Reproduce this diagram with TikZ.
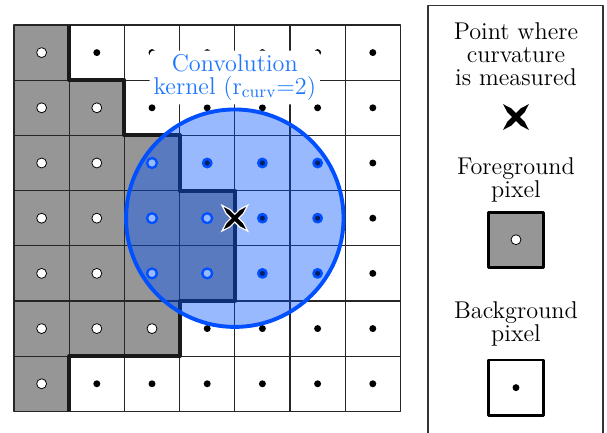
\documentclass[tikz,border=0pt]{standalone}
\definecolor{fggray}{RGB}{150,150,150}
\definecolor{kernblue}{RGB}{0,80,255}
\definecolor{textblue}{RGB}{30,120,255}
% four-pointed cross marking the measured point
\newcommand{\starcross}[2][]{%
  \begin{scope}[shift={(#2)}]
    \filldraw[line join=miter,#1] (0:0.07) \foreach \a in {0,90,180,270}{
      -- (\a+29:0.18) -- (\a+45:0.33) -- (\a+61:0.18) -- (\a+90:0.07)} -- cycle;
  \end{scope}}
\begin{document}
\begin{tikzpicture}[line join=round,
    font=\fontsize{12.5}{11.8}\selectfont,
    fgcell/.style={fill=fggray,draw=black!85,line width=0.6pt},
    bgcell/.style={fill=white,draw=black!85,line width=0.6pt},
    fgdot/.style={fill=white,draw=black,line width=0.4pt},
    border/.style={line width=2pt,black!90},
    kernel/.style={fill=kernblue,fill opacity=0.4,draw=kernblue,draw opacity=1,line width=2pt},
    fgring/.style={draw=kernblue,line width=1.2pt},
    bgring/.style={draw=kernblue,line width=1.3pt},
    legtext/.style={align=center,inner sep=0pt}]
  \useasboundingbox (-0.254,-0.391) rectangle (10.743,7.453);
  % pixel grid
  \foreach \r/\n in {0/1,1/2,2/3,3/4,4/4,5/3,6/1}{
    \foreach \c in {0,...,6}{
      \ifnum\c<\n
        \draw[fgcell] (\c,6-\r) rectangle ++(1,1);
        \filldraw[fgdot] (\c+0.5,6.5-\r) circle (0.09);
      \else
        \draw[bgcell] (\c,6-\r) rectangle ++(1,1);
        \fill (\c+0.5,6.5-\r) circle (0.063);
      \fi
    }
  }
  \draw[border] (1,7) |- (2,6) |- (3,5) |- (4,4) -- (4,2) -| (3,1) -| (1,0);
  \node[fill=white,rounded corners=2pt,inner sep=2pt,align=center,text=textblue]
    (kernlabel) at (4,6.05) {Convolution\\kernel (r\textsubscript{curv}=2)};
  % convolution kernel
  \draw[kernel] (4,3.5) circle (1.97);
  \foreach \r/\n in {2/3,3/4,4/4}{
    \foreach \c in {2,...,5}{
      \ifnum\c<\n
        \draw[fgring] (\c+0.5,6.5-\r) circle (0.09);
      \else
        \draw[bgring] (\c+0.5,6.5-\r) circle (0.075);
      \fi
    }
  }
  \starcross[fill=black,draw=white,line width=0.6pt]{4,3.5}
  % legend
  \draw[black!80,line width=0.6pt] (7.5,-0.5) |- (10.67,7.36) -- (10.67,-0.5);
  \node[legtext] (pointtext) at (9.094,6.475) {Point where\\curvature\\is measured};
  \starcross[fill=black,draw=none]{9.094,5.333}
  \node[legtext] (fgtext) at (9.094,4.19) {Foreground\\pixel};
  \draw[fgcell,line width=1.5pt,draw=black] (8.594,2.61) rectangle ++(1,1);
  \filldraw[fgdot] (9.094,3.11) circle (0.09);
  \node[legtext] (bgtext) at (9.094,1.58) {Background\\pixel};
  \draw[bgcell,line width=1.5pt,draw=black] (8.594,-0.07) rectangle ++(1,1);
  \fill (9.094,0.43) circle (0.063);
\end{tikzpicture}
\end{document}
